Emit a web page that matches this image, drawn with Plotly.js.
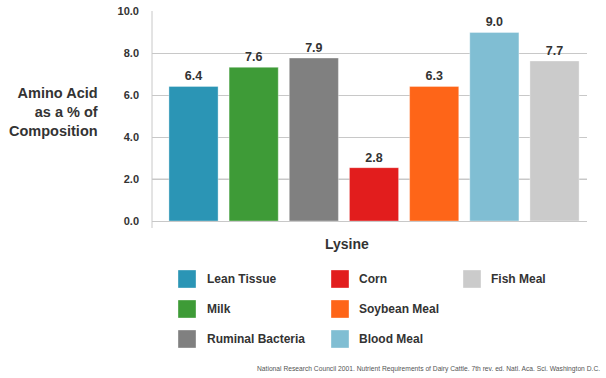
<!DOCTYPE html>
<html>
<head>
<meta charset="utf-8">
<script src="https://cdn.plot.ly/plotly-3.0.1.min.js"></script>
<style>html,body{margin:0;padding:0;background:#fff;}#chart{width:606px;height:378px;}</style>
</head>
<body>
<div id="chart"></div>
<script>
const categories = ["Lean Tissue", "Milk", "Ruminal Bacteria", "Corn", "Soybean Meal", "Blood Meal", "Fish Meal"];
const values = [6.41, 7.32, 7.76, 2.54, 6.41, 8.98, 7.62];
const valueLabels = ["6.4", "7.6", "7.9", "2.8", "6.3", "9.0", "7.7"];
const colors = ["#2b95b5", "#3e9b37", "#808080", "#e21d1d", "#fe6518", "#80bed3", "#cbcbcb"];
const yTicks = [0, 2, 4, 6, 8, 10];
const yTickLabels = ["0.0", "2.0", "4.0", "6.0", "8.0", "10.0"];
const xTitle = "Lysine";
const yTitle = "Amino Acid<br>as a % of<br>Composition";
const source = "National Research Council 2001. Nutrient Requirements of Dairy Cattle. 7th rev. ed. Natl. Aca. Sci. Washington D.C.";

const W = 606, H = 378;
const M = {l: 152, r: 19, t: 11, b: 157};
const PW = W - M.l - M.r, PH = H - M.t - M.b;
const px = x => (x - M.l) / PW;
const py = y => (H - M.b - y) / PH;

const FONT = "Liberation Sans, Arial, Helvetica, sans-serif";
const TXT = "#333333";

const trace = {
  type: "bar",
  x: categories,
  y: values,
  text: valueLabels,
  textposition: "outside",
  cliponaxis: false,
  textfont: {family: FONT, size: 12.5, color: TXT, weight: "bold"},
  marker: {color: colors, line: {color: "rgba(255,255,255,0.35)", width: 1}},
  width: 0.817,
  hoverinfo: "none",
  showlegend: false
};

const shapes = [
  {type: "line", xref: "paper", yref: "paper", x0: 0, x1: 0, y0: py(228), y1: 1,
   line: {color: "#c8c8c8", width: 1}},
  {type: "line", xref: "paper", yref: "y", x0: 0, x1: 1, y0: 2, y1: 2, layer: "between",
   line: {color: "#e4e4e4", width: 2}}
];
const annotations = [
  {xref: "paper", yref: "paper", x: px(346.5), y: py(244), xanchor: "center", yanchor: "middle",
   text: xTitle, showarrow: false, font: {family: FONT, size: 14, color: TXT, weight: "bold"}},
  {xref: "paper", yref: "paper", x: px(100), y: py(112), xanchor: "right", yanchor: "middle", align: "right",
   text: yTitle, showarrow: false, font: {family: FONT, size: 14.5, color: TXT, weight: "bold"}},
  {xref: "paper", yref: "paper", x: px(602), y: py(369), xanchor: "right", yanchor: "middle",
   text: source, showarrow: false, font: {family: FONT, size: 6.7, color: "#555555"}}
];

const colSwatch = [178, 331, 463];
const colText = [205, 357, 489];
const rowY = [279, 309, 339];
categories.forEach((c, i) => {
  const col = Math.floor(i / 3), row = i % 3;
  const cy = rowY[row];
  shapes.push({type: "rect", xref: "paper", yref: "paper",
    x0: px(colSwatch[col]), x1: px(colSwatch[col] + 18), y0: py(cy + 9), y1: py(cy - 9),
    fillcolor: colors[i], line: {color: "rgba(255,255,255,0.35)", width: 1}});
  annotations.push({xref: "paper", yref: "paper", x: px(colText[col]), y: py(cy),
    xanchor: "left", yanchor: "middle", text: c, showarrow: false,
    font: {family: FONT, size: 12, color: TXT, weight: "bold"}});
});

const layout = {
  width: W, height: H,
  margin: M,
  paper_bgcolor: "#ffffff", plot_bgcolor: "#ffffff",
  barmode: "overlay",
  xaxis: {type: "category", range: [-0.69, 6.54], showticklabels: false, showgrid: false,
          zeroline: false, showline: false, ticks: "", fixedrange: true},
  yaxis: {range: [0, 10], tickvals: yTicks, ticktext: yTickLabels, showgrid: true,
          gridcolor: "#c8c8c8", gridwidth: 1, zeroline: true, zerolinecolor: "#c8c8c8", zerolinewidth: 1,
          showline: false, ticks: "", ticklabelstandoff: 12,
          tickfont: {family: FONT, size: 11, color: TXT, weight: "bold"}, fixedrange: true},
  shapes: shapes,
  annotations: annotations,
  showlegend: false
};

Plotly.newPlot("chart", [trace], layout, {displayModeBar: false, staticPlot: true});
</script>
</body>
</html>
